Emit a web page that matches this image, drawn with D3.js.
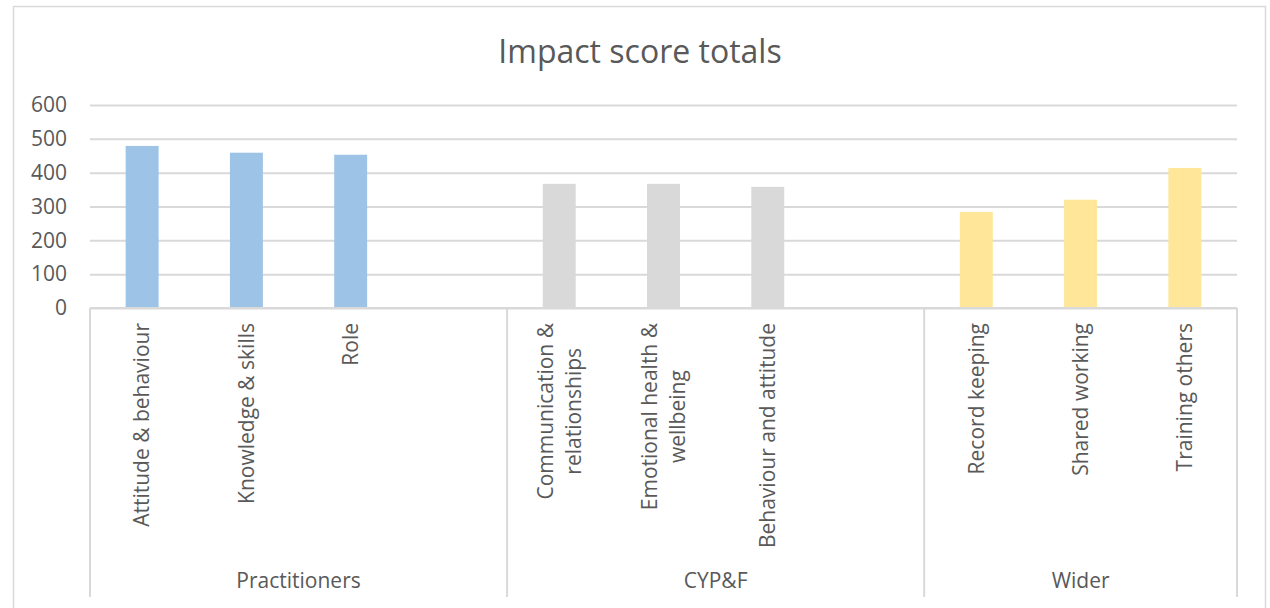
<!DOCTYPE html>
<html>
<head>
<meta charset="utf-8">
<script src="https://cdn.jsdelivr.net/npm/d3@7"></script>
<style>
  body { margin: 0; background: #fff; }
  svg { display: block; font-family: 'Open Sans', sans-serif; }
</style>
</head>
<body>
<div id="chart"></div>
<script>
// chart data
var groups = ['Practitioners', 'CYP&F', 'Wider']
var categories = ['Attitude & behaviour', 'Knowledge & skills', 'Role', '',
  'Communication & relationships', 'Emotional health & wellbeing', 'Behaviour and attitude', '',
  'Record keeping', 'Shared working', 'Training others']
var groupIndex = [0, 0, 0, 0, 1, 1, 1, 1, 2, 2, 2]
var values = [479, 459, 453, null, 367, 367, 358, null, 284, 320, 414]
var yTicks = [0, 100, 200, 300, 400, 500, 600]
var groupColors = ['#9dc3e6', '#d9d9d9', '#ffe699']

var W = 1270, H = 608
var margin = {top: 105, right: 33, bottom: 300, left: 90},
    width = W - margin.left - margin.right,
    height = H - margin.top - margin.bottom

var textColor = '#595959'
var gridColor = '#d9d9d9'

var svg = d3.select('#chart').append('svg')
    .attr('width', W)
    .attr('height', H)

// outer chart border
svg.append('rect')
    .attr('x', 13.5)
    .attr('y', 6.5)
    .attr('width', 1252)
    .attr('height', 640)
    .attr('fill', 'none')
    .attr('stroke', gridColor)
    .attr('stroke-width', 1.5)

svg.append('text')
    .attr('x', 640)
    .attr('y', 63)
    .attr('text-anchor', 'middle')
    .attr('font-size', '32px')
    .attr('fill', textColor)
    .text('Impact score totals')

var g = svg.append('g')
    .attr('transform', 'translate(' + margin.left + ',' + margin.top + ')')

var x = d3.scaleBand()
    .domain(d3.range(categories.length))
    .range([0, width])
    .paddingInner(0.684)
    .paddingOuter(0.342)

var y = d3.scaleLinear()
    .domain([0, 600])
    .range([height, 0])

// gridlines + y labels
var yAxis = d3.axisLeft(y)
    .tickValues(yTicks)
    .tickSize(-width)
    .tickPadding(23)

g.append('g')
    .call(yAxis)
    .call(function(a){
      a.select('.domain').remove()
      a.selectAll('.tick line').attr('stroke', gridColor).attr('stroke-width', 2)
      a.selectAll('.tick text')
        .attr('font-size', '21px')
        .attr('font-family', "'Open Sans', sans-serif")
        .attr('fill', textColor)
    })

// bars
g.selectAll('.bar')
    .data(values.map(function(v, i){ return {v: v, i: i} }).filter(function(d){ return d.v !== null }))
  .enter().append('rect')
    .attr('class', 'bar')
    .attr('x', function(d){ return x(d.i) })
    .attr('width', x.bandwidth())
    .attr('y', function(d){ return y(d.v) })
    .attr('height', function(d){ return height - y(d.v) })
    .attr('fill', function(d){ return groupColors[groupIndex[d.i]] })

// category axis line
g.append('line')
    .attr('x1', 0).attr('x2', width)
    .attr('y1', height).attr('y2', height)
    .attr('stroke', gridColor)
    .attr('stroke-width', 2)

// group separators
var bounds = [0]
groups.forEach(function(gr, gi){
  var last = groupIndex.lastIndexOf(gi)
  bounds.push(x(last) - x.step() * x.paddingOuter() + x.step())
})
bounds[bounds.length - 1] = width
g.selectAll('.sep')
    .data(bounds)
  .enter().append('line')
    .attr('x1', function(d){ return d }).attr('x2', function(d){ return d })
    .attr('y1', height).attr('y2', height + 289)
    .attr('stroke', gridColor)
    .attr('stroke-width', 2)

// group labels
g.selectAll('.glabel')
    .data(groups)
  .enter().append('text')
    .attr('x', function(d, i){ return (bounds[i] + bounds[i + 1]) / 2 })
    .attr('y', height + 280)
    .attr('text-anchor', 'middle')
    .attr('font-size', '21px')
    .attr('fill', textColor)
    .text(function(d){ return d })

// rotated category labels, wrapped like excel does (block top aligned, lines centred)
var maxLen = 232, lineH = 28
categories.forEach(function(cat, i){
  if (!cat) return
  var t = g.append('text')
      .attr('font-size', '21px')
  var words = cat.split(' '), lines = [], cur = ''
  words.forEach(function(w){
    var test = cur ? cur + ' ' + w : w
    t.text(test)
    if (t.node().getComputedTextLength() > maxLen && cur) {
      lines.push(cur)
      cur = w
    } else {
      cur = test
    }
  })
  lines.push(cur)
  var longest = d3.max(lines, function(l){ t.text(l); return t.node().getComputedTextLength() })
  t.remove()
  var cx = x(i) + x.bandwidth() / 2
  var cy = height + 15 + longest / 2
  lines.forEach(function(line, li){
    var off = (li - (lines.length - 1) / 2) * lineH
    g.append('text')
        .attr('transform', 'translate(' + (cx + off) + ',' + cy + ') rotate(-90)')
        .attr('text-anchor', 'middle')
        .attr('dy', '0.35em')
        .attr('font-size', '21px')
        .attr('fill', textColor)
        .text(line)
  })
})
</script>
</body>
</html>
